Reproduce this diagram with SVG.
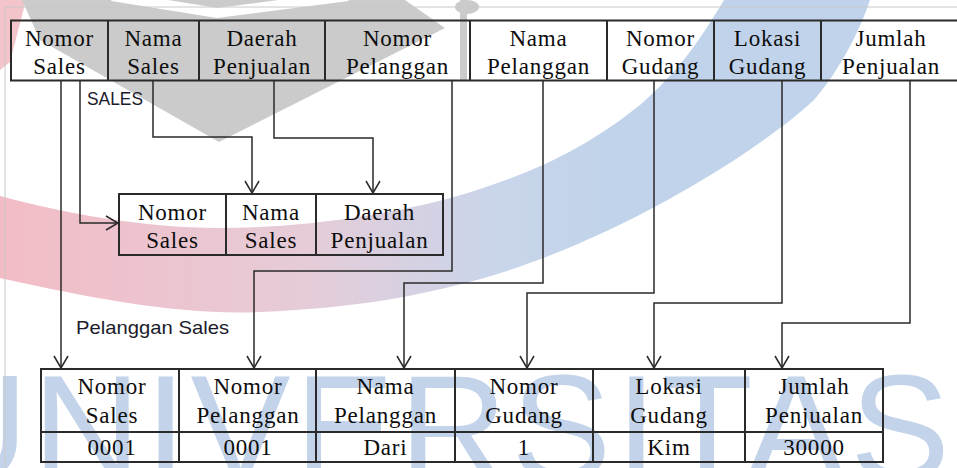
<svg xmlns="http://www.w3.org/2000/svg" width="957" height="468" viewBox="0 0 957 468">
<defs>
<linearGradient id="swoosh" gradientUnits="userSpaceOnUse" x1="0" y1="0" x2="620" y2="0">
<stop offset="0" stop-color="#f3bcc5"/>
<stop offset="0.5" stop-color="#e5ccd8"/>
<stop offset="0.8" stop-color="#c9d5ea"/>
<stop offset="1" stop-color="#c0d3ea"/>
</linearGradient>
<marker id="arr" markerUnits="userSpaceOnUse" markerWidth="16" markerHeight="16" viewBox="-14 -8 16 16" refX="0" refY="0" orient="auto">
<path d="M-12,-7 L0,0 L-12,7" fill="none" stroke="#2a2a2a" stroke-width="1.5"/>
</marker>
</defs>
<style>
.t{font-family:"Liberation Serif","Times New Roman",serif;font-size:23px;letter-spacing:0.8px;text-anchor:middle;fill:#0d0d0d}
.s{font-family:"Liberation Sans",Arial,sans-serif;font-size:19px;fill:#1b1b2a}
.b{fill:none;stroke:#2a2a2a;stroke-width:2}
.c{fill:none;stroke:#2a2a2a;stroke-width:1.5}
.wm{fill:#c3d4ea}
.gr{fill:#cbcbcb}
</style>
<rect width="957" height="468" fill="#ffffff"/>

<g id="watermark">
<path d="M0,0 L26,0 L10,62 L0,70 Z" fill="#f3c4ca"/>
<path class="gr" d="M22,0 L405,0 L445,28 L219,142 L40,40 Z"/>
<polyline points="112,-4 217,13 348,-4" fill="none" stroke="#ffffff" stroke-width="10"/>
<rect class="gr" x="460" y="0" width="7" height="80"/>
<ellipse class="gr" cx="467" cy="7" rx="12" ry="7"/>
<path fill="url(#swoosh)" d="M0,278 C100,300 180,315 260,312 C360,308 420,295 477,280 C620,240 760,150 814,100 C840,70 860,30 870,0 L724,0 C700,40 680,70 640,105 C590,145 540,170 477,190 C400,215 300,228 220,228 C140,228 60,212 0,196 Z"/>
<text class="wm" x="-80" y="480" font-family="'Liberation Sans',Arial,sans-serif" font-size="150" textLength="1030" lengthAdjust="spacing">UNIVERSITAS</text>
<path d="M5,468 V7 H957" fill="none" stroke="#c8c8c8" stroke-width="1"/>
</g>

<g id="table-source">
<rect class="b" x="11" y="20.5" width="960" height="60"/>
<path class="b" d="M108,20.5 V80.5 M199,20.5 V80.5 M325,20.5 V80.5 M470,20.5 V80.5 M607,20.5 V80.5 M714,20.5 V80.5 M821,20.5 V80.5"/>
<text class="t" x="59.5" y="46">Nomor</text><text class="t" x="59.5" y="74">Sales</text>
<text class="t" x="153.5" y="46">Nama</text><text class="t" x="153.5" y="74">Sales</text>
<text class="t" x="262" y="46">Daerah</text><text class="t" x="262" y="74">Penjualan</text>
<text class="t" x="397.5" y="46">Nomor</text><text class="t" x="397.5" y="74">Pelanggan</text>
<text class="t" x="538.5" y="46">Nama</text><text class="t" x="538.5" y="74">Pelanggan</text>
<text class="t" x="660.5" y="46">Nomor</text><text class="t" x="660.5" y="74">Gudang</text>
<text class="t" x="767.5" y="46">Lokasi</text><text class="t" x="767.5" y="74">Gudang</text>
<text class="t" x="891" y="46">Jumlah</text><text class="t" x="891" y="74">Penjualan</text>
</g>

<g id="table-sales">
<text class="s" x="87" y="104.5" textLength="56" lengthAdjust="spacingAndGlyphs">SALES</text>
<rect class="b" x="119" y="194" width="324" height="61"/>
<path class="b" d="M226,194 V255 M316,194 V255"/>
<text class="t" x="172.5" y="220">Nomor</text><text class="t" x="172.5" y="248">Sales</text>
<text class="t" x="271" y="220">Nama</text><text class="t" x="271" y="248">Sales</text>
<text class="t" x="379.5" y="220">Daerah</text><text class="t" x="379.5" y="248">Penjualan</text>
</g>

<g id="table-pelanggan-sales">
<text class="s" x="76" y="334" textLength="153" lengthAdjust="spacingAndGlyphs">Pelanggan Sales</text>
<rect class="b" x="41" y="369" width="842" height="93"/>
<path class="b" d="M41,432 H883 M179,369 V462 M316,369 V462 M455,369 V462 M593,369 V462 M745,369 V462"/>
<text class="t" x="112" y="394">Nomor</text><text class="t" x="112" y="423">Sales</text>
<text class="t" x="248" y="394">Nomor</text><text class="t" x="248" y="423">Pelanggan</text>
<text class="t" x="385.5" y="394">Nama</text><text class="t" x="385.5" y="423">Pelanggan</text>
<text class="t" x="524" y="394">Nomor</text><text class="t" x="524" y="423">Gudang</text>
<text class="t" x="669" y="394">Lokasi</text><text class="t" x="669" y="423">Gudang</text>
<text class="t" x="814" y="394">Jumlah</text><text class="t" x="814" y="423">Penjualan</text>
<text class="t" x="112" y="455">0001</text>
<text class="t" x="248" y="455">0001</text>
<text class="t" x="385.5" y="455">Dari</text>
<text class="t" x="524" y="455">1</text>
<text class="t" x="669" y="455">Kim</text>
<text class="t" x="814" y="455">30000</text>
</g>

<g id="connectors">
<path class="c" marker-end="url(#arr)" d="M61,81 V368"/>
<path class="c" marker-end="url(#arr)" d="M80,81 V223 H118"/>
<path class="c" marker-end="url(#arr)" d="M153,81 V137 H252 V193"/>
<path class="c" marker-end="url(#arr)" d="M274,81 V138 H373 V193"/>
<path class="c" marker-end="url(#arr)" d="M452,81 V271 H254 V368"/>
<path class="c" marker-end="url(#arr)" d="M543,81 V283 H404 V368"/>
<path class="c" marker-end="url(#arr)" d="M654,81 V293 H527 V368"/>
<path class="c" marker-end="url(#arr)" d="M782,81 V303 H654 V368"/>
<path class="c" marker-end="url(#arr)" d="M910,81 V323 H782 V368"/>
</g>
</svg>
